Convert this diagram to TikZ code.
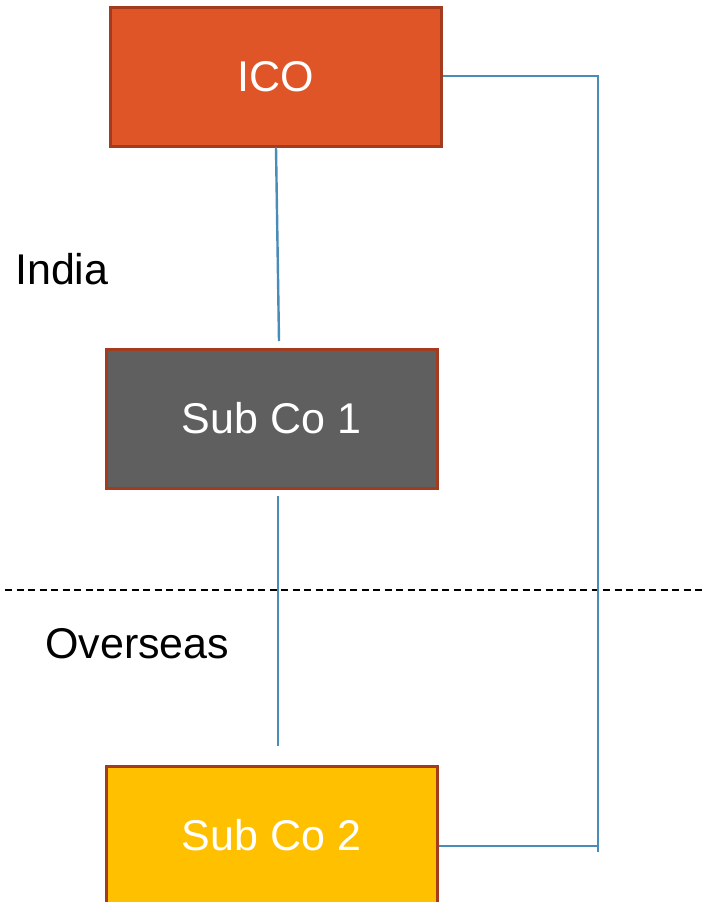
\documentclass[tikz,border=0pt]{standalone}
\usepackage{fontspec}
\setmainfont{Liberation Sans}
\definecolor{icofill}{HTML}{E05527}
\definecolor{subonefill}{HTML}{5F5F5F}
\definecolor{subtwofill}{HTML}{FFC000}
\definecolor{boxedge}{HTML}{A33B1E}
\definecolor{linkblue}{HTML}{4A8CB8}
\begin{document}
\begin{tikzpicture}[x=1pt,y=-1pt,
  entity/.style={draw=boxedge,line width=3pt,minimum width=331pt,minimum height=139pt,
    inner sep=0pt,text=white,font=\fontsize{43}{50}\selectfont},
  link/.style={draw=linkblue,line width=2.4pt},
  region/.style={font=\fontsize{43}{50}\selectfont,text=black,anchor=base west,inner sep=0pt},
  border/.style={dashed,line width=1.6pt,dash pattern=on 7pt off 4.5pt}]
  \useasboundingbox (0,0) rectangle (706,902);
  % company boxes
  \node[entity,fill=icofill] (ico) at (275.5,76.5) {ICO};
  \node[entity,fill=subonefill] (sub1) at (271.5,418.5) {Sub Co 1};
  \node[entity,fill=subtwofill] (sub2) at (271.5,835.5) {Sub Co 2};
  % jurisdiction labels
  \node[region] (india) at (15,284) {India};
  \node[region] (overseas) at (45,658) {Overseas};
  % loose ends of the vertical links
  \coordinate (e1) at (279,341);
  \coordinate (s2) at (278,496);
  \coordinate (e2) at (278,746);
  \coordinate (rtop) at (598,76);
  \coordinate (rbot) at (598,852);
  \coordinate (rmid) at (598,846);
  % border between India and overseas
  \coordinate (bl) at (5,590);
  \coordinate (br) at (706,590);
  \draw[border] (bl) -- (br);
  % ownership links
  \draw[link] (ico.south) ++(0.5,0) -- (e1);
  \draw[link] (s2) -- (e2);
  \draw[link] (ico.east |- rtop) -- (rtop) -- (rbot);
  \draw[link] (sub2.east |- rmid) -- (rmid);
\end{tikzpicture}
\end{document}
